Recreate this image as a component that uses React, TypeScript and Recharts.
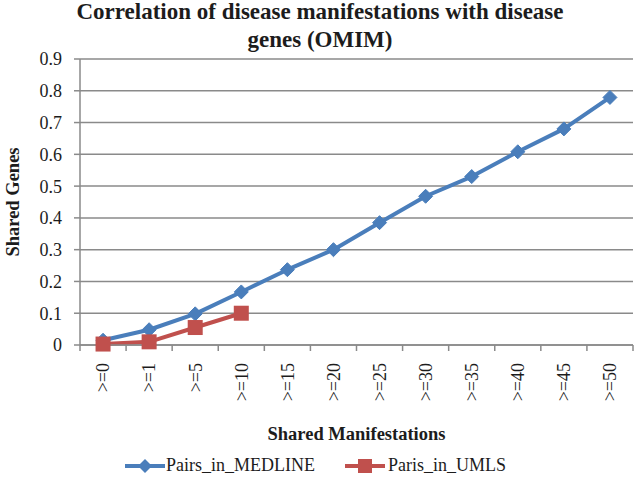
import React from "react";
import { LineChart, Line, XAxis, YAxis, CartesianGrid, Legend } from "recharts";

const categories = [">=0", ">=1", ">=5", ">=10", ">=15", ">=20", ">=25", ">=30", ">=35", ">=40", ">=45", ">=50"];
const pairsInMedline = [0.015, 0.048, 0.098, 0.167, 0.237, 0.3, 0.385, 0.468, 0.53, 0.608, 0.68, 0.779];
const parisInUmls = [0.003, 0.01, 0.055, 0.1];
const yTicks = [0, 0.1, 0.2, 0.3, 0.4, 0.5, 0.6, 0.7, 0.8, 0.9];

const FONT = '"Liberation Serif", "Times New Roman", serif';
const BLUE = "#4a7ebb";
const RED = "#c0504d";
const AXIS = "#8a8a8a";
const TEXT = "#1c1c1c";

const data = categories.map((name, i) => ({
  x: i + 0.5,
  name,
  medline: pairsInMedline[i],
  umls: i < parisInUmls.length ? parisInUmls[i] : null,
}));

// boundary ticks (tick marks) + centre ticks (labels), like excel's "between categories"
const xTicks: number[] = [];
for (let i = 0; i <= categories.length; i++) {
  xTicks.push(i);
  if (i < categories.length) xTicks.push(i + 0.5);
}

function XTick(props: any) {
  const { x, y, payload } = props;
  const v = payload.value;
  if (Number.isInteger(v)) {
    return <line x1={x} x2={x} y1={y} y2={y + 6} stroke={AXIS} strokeWidth={1.5} />;
  }
  const ty = y + 18;
  return (
    <text
      x={x}
      y={ty}
      dy="0.35em"
      transform={`rotate(-90 ${x} ${ty})`}
      textAnchor="end"
      fontFamily={FONT}
      fontSize={18}
      fill={TEXT}
    >
      {categories[Math.floor(v)]}
    </text>
  );
}

function Diamond(props: any) {
  const { cx, cy, index } = props;
  if (cx == null || cy == null) return <g key={`d${index}`} />;
  const r = 7;
  return (
    <path
      key={`d${index}`}
      d={`M${cx},${cy - r}L${cx + r},${cy}L${cx},${cy + r}L${cx - r},${cy}Z`}
      fill={BLUE}
      stroke={BLUE}
    />
  );
}

function Square(props: any) {
  const { cx, cy, index } = props;
  if (cx == null || cy == null) return <g key={`s${index}`} />;
  const s = 7.5;
  return <rect key={`s${index}`} x={cx - s} y={cy - s} width={s * 2} height={s * 2} fill={RED} />;
}

function YLabel(props: any) {
  const vb = props.viewBox || { y: 59, height: 286 };
  const cy = vb.y + vb.height / 2;
  const cx = 13;
  return (
    <text
      x={cx}
      y={cy}
      dy="0.35em"
      transform={`rotate(-90 ${cx} ${cy})`}
      textAnchor="middle"
      fontFamily={FONT}
      fontWeight="bold"
      fontSize={18.5}
      fill={TEXT}
    >
      Shared Genes
    </text>
  );
}

function LegendIcon({ color, square }: { color: string; square?: boolean }) {
  return (
    <svg width={40} height={16} style={{ display: "block" }}>
      <line x1={0} x2={40} y1={8} y2={8} stroke={color} strokeWidth={4} />
      {square ? (
        <rect x={13} y={1} width={14} height={14} fill={color} />
      ) : (
        <path d="M20,1L27,8L20,15L13,8Z" fill={color} />
      )}
    </svg>
  );
}

function LegendContent() {
  return (
    <div
      style={{
        display: "flex",
        justifyContent: "center",
        alignItems: "center",
        height: 41,
        paddingTop: 4,
        boxSizing: "border-box",
        fontFamily: FONT,
        fontSize: 18,
        color: TEXT,
        paddingRight: 9,
      }}
    >
      <LegendIcon color={BLUE} />
      <span style={{ marginLeft: 1, marginRight: 30 }}>Pairs_in_MEDLINE</span>
      <LegendIcon color={RED} square />
      <span style={{ marginLeft: 3 }}>Paris_in_UMLS</span>
    </div>
  );
}

export default function App() {
  return (
    <div style={{ position: "absolute", left: 0, top: 0, width: 640, height: 484, background: "#fff" }}>
      <div
        style={{
          position: "absolute",
          left: 0,
          top: -2,
          width: 640,
          textAlign: "center",
          fontFamily: FONT,
          fontWeight: "bold",
          fontSize: 23,
          lineHeight: "28px",
          color: TEXT,
        }}
      >
        Correlation of disease manifestations with disease
        <br />
        genes (OMIM)
      </div>
      <LineChart width={640} height={484} data={data} margin={{ top: 59, right: 7, left: 0, bottom: 0 }}>
        <CartesianGrid vertical={false} stroke={AXIS} strokeWidth={1.5} />
        <XAxis
          dataKey="x"
          type="number"
          domain={[0, categories.length]}
          ticks={xTicks}
          interval={0}
          tick={<XTick />}
          tickLine={false}
          tickSize={0}
          tickMargin={0}
          height={98}
          stroke={AXIS}
          strokeWidth={1.5}
          label={{
            value: "Shared Manifestations",
            position: "insideBottom",
            offset: 3,
            fill: TEXT,
            fontFamily: FONT,
            fontWeight: "bold",
            fontSize: 18.5,
          }}
        />
        <YAxis
          width={80}
          domain={[0, 0.9]}
          ticks={yTicks}
          interval={0}
          tickSize={6}
          tickMargin={12}
          stroke={AXIS}
          strokeWidth={1.5}
          tick={{ fill: TEXT, fontFamily: FONT, fontSize: 18 }}
          label={YLabel}
        />
        <Legend
          verticalAlign="bottom"
          content={LegendContent}
          wrapperStyle={{ left: 0, bottom: 0, width: 640, height: 41 }}
        />
        <Line
          dataKey="medline"
          name="Pairs_in_MEDLINE"
          stroke={BLUE}
          strokeWidth={4}
          strokeLinejoin="round"
          dot={Diamond}
          activeDot={false}
          isAnimationActive={false}
        />
        <Line
          dataKey="umls"
          name="Paris_in_UMLS"
          stroke={RED}
          strokeWidth={4}
          strokeLinejoin="round"
          dot={Square}
          activeDot={false}
          isAnimationActive={false}
        />
      </LineChart>
    </div>
  );
}
